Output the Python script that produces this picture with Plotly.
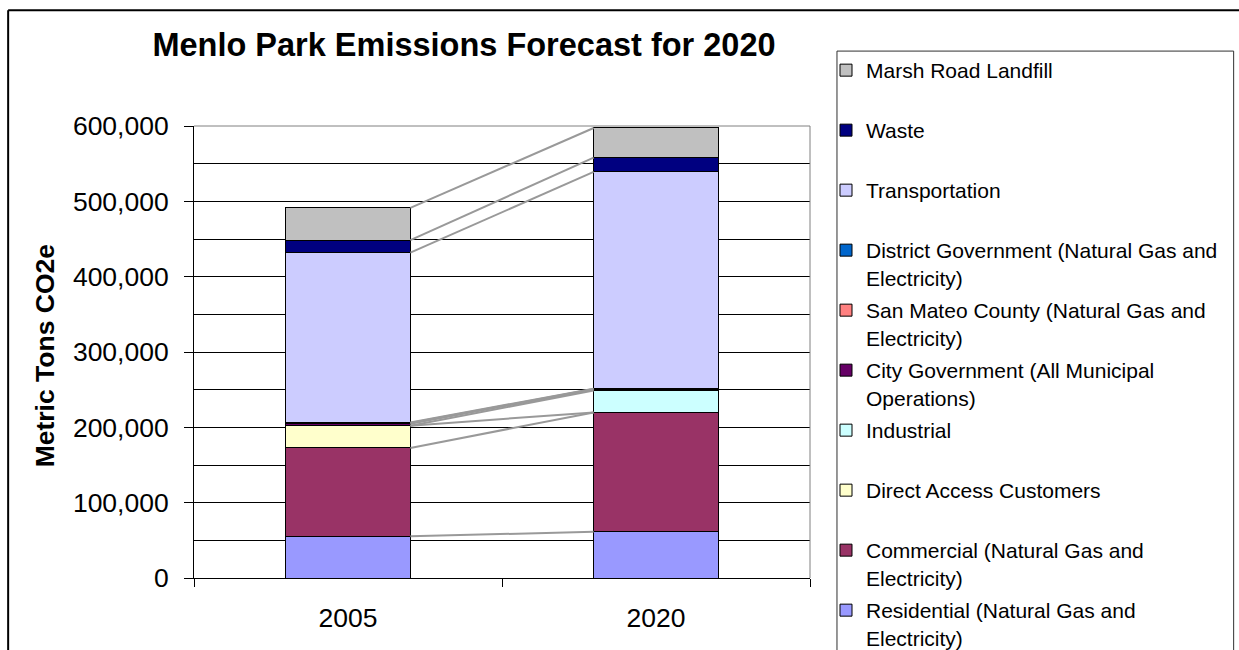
import numpy as np
import plotly.graph_objects as go

# Emissions by sector, metric tons CO2e
years = ["2005", "2020"]

residential = [55400, 61300]
commercial = [117200, 158500]
direct_access = [29600, 0]
industrial = [0, 29200]
city_government = [2600, 1300]
san_mateo_county = [900, 500]
district_government = [900, 500]
transportation = [225400, 287700]
waste = [16500, 19000]
marsh_road_landfill = [42800, 39400]

# stacking order, bottom to top
sector_values = [
    residential, commercial, direct_access, industrial, city_government,
    san_mateo_county, district_government, transportation, waste,
    marsh_road_landfill,
]
sector_names = [
    "Residential (Natural Gas and<br>Electricity)",
    "Commercial (Natural Gas and<br>Electricity)",
    "Direct Access Customers<br> ",
    "Industrial<br> ",
    "City Government (All Municipal<br>Operations)",
    "San Mateo County (Natural Gas and<br>Electricity)",
    "District Government (Natural Gas and<br>Electricity)",
    "Transportation<br> ",
    "Waste<br> ",
    "Marsh Road Landfill<br> ",
]
sector_colors = [
    "#9999FF", "#993366", "#FFFFCC", "#CCFFFF", "#660066",
    "#FF8080", "#0066CC", "#CCCCFF", "#000080", "#C0C0C0",
]

y_ticks = [0, 100000, 200000, 300000, 400000, 500000, 600000]

FONT = "Liberation Sans, Arial, sans-serif"
W, H = 1239, 650
L, R, T, B = 194, 1239 - 810.5, 126, 650 - 578.5
BAR_WIDTH = 0.405


def px_x(px):
    return (px - L) / (W - L - R)


def px_y(py):
    return (H - B - py) / (H - T - B)


fig = go.Figure()
n = len(sector_names)
for i, (name, vals, color) in enumerate(zip(sector_names, sector_values, sector_colors)):
    # legend lists the top segment first
    fig.add_trace(go.Bar(
        x=years, y=vals, name=name, legendgroup=name, legendrank=n - i,
        marker=dict(color=color, line=dict(color="black", width=1)),
    ))

# series lines joining the top of each segment across the two bars
tops = np.cumsum(np.array(sector_values), axis=0)
shapes = []
for top in tops:
    shapes.append(dict(
        type="line", xref="x", yref="y",
        x0=0 + BAR_WIDTH / 2, x1=1 - BAR_WIDTH / 2, y0=top[0], y1=top[1],
        line=dict(color="#999999", width=2),
    ))

# plot area border (top and right)
shapes.append(dict(type="line", xref="paper", yref="paper", x0=0, x1=1, y0=1, y1=1,
                   line=dict(color="#808080", width=1)))
shapes.append(dict(type="line", xref="paper", yref="paper", x0=1, x1=1, y0=0, y1=1,
                   line=dict(color="#808080", width=1)))

# chart frame
shapes.append(dict(type="line", xref="paper", yref="paper",
                   x0=px_x(8), x1=px_x(1300), y0=px_y(10), y1=px_y(10),
                   line=dict(color="black", width=2)))
shapes.append(dict(type="line", xref="paper", yref="paper",
                   x0=px_x(8), x1=px_x(8), y0=px_y(10), y1=px_y(700),
                   line=dict(color="black", width=2)))

# legend frame
shapes.append(dict(type="rect", xref="paper", yref="paper",
                   x0=px_x(837.5), x1=px_x(1234.5), y0=px_y(51), y1=px_y(700),
                   line=dict(color="#303030", width=1), fillcolor="rgba(0,0,0,0)"))

fig.update_layout(
    width=W, height=H,
    margin=dict(l=L, r=R, t=T, b=B, pad=0),
    paper_bgcolor="white", plot_bgcolor="white",
    barmode="stack", bargap=1 - BAR_WIDTH,
    font=dict(family=FONT, color="black"),
    title=dict(
        text="<b>Menlo Park Emissions Forecast for 2020</b>",
        font=dict(family=FONT, size=32.5, color="black"),
        x=464 / W, xanchor="center", xref="container",
        y=1 - 45 / H, yanchor="middle", yref="container",
    ),
    xaxis=dict(
        type="category", tickson="boundaries", ticks="outside", ticklen=8,
        tickcolor="black", showline=True, linecolor="black", linewidth=1,
        showgrid=False, tickfont=dict(family=FONT, size=26.5, color="black"),
        ticklabelstandoff=16,
    ),
    yaxis=dict(
        range=[0, 600000], tickvals=y_ticks, tickformat=",d",
        ticks="outside", ticklen=9, tickcolor="black",
        showline=True, linecolor="black", linewidth=1,
        showgrid=True, gridcolor="black", gridwidth=1,
        minor=dict(dtick=50000, showgrid=True, gridcolor="black", gridwidth=1, ticks=""),
        tickfont=dict(family=FONT, size=26.5, color="black"),
        ticklabelstandoff=10, zeroline=False,
    ),
    legend=dict(
        traceorder="grouped", tracegroupgap=2.4, valign="top",
        font=dict(family=FONT, size=21, color="black"),
        xref="container", yref="container",
        x=826 / W, xanchor="left", y=1 - 50 / H, yanchor="top",
        borderwidth=0, bgcolor="rgba(0,0,0,0)", maxheight=2000,
    ),
    annotations=[dict(
        text="<b>Metric Tons CO2e</b>", textangle=-90,
        xref="paper", yref="paper", x=px_x(45), y=px_y(356.5),
        xanchor="center", yanchor="middle", showarrow=False,
        font=dict(family=FONT, size=26.5, color="black"),
    )],
    shapes=shapes,
)

fig.write_html("out.html")
